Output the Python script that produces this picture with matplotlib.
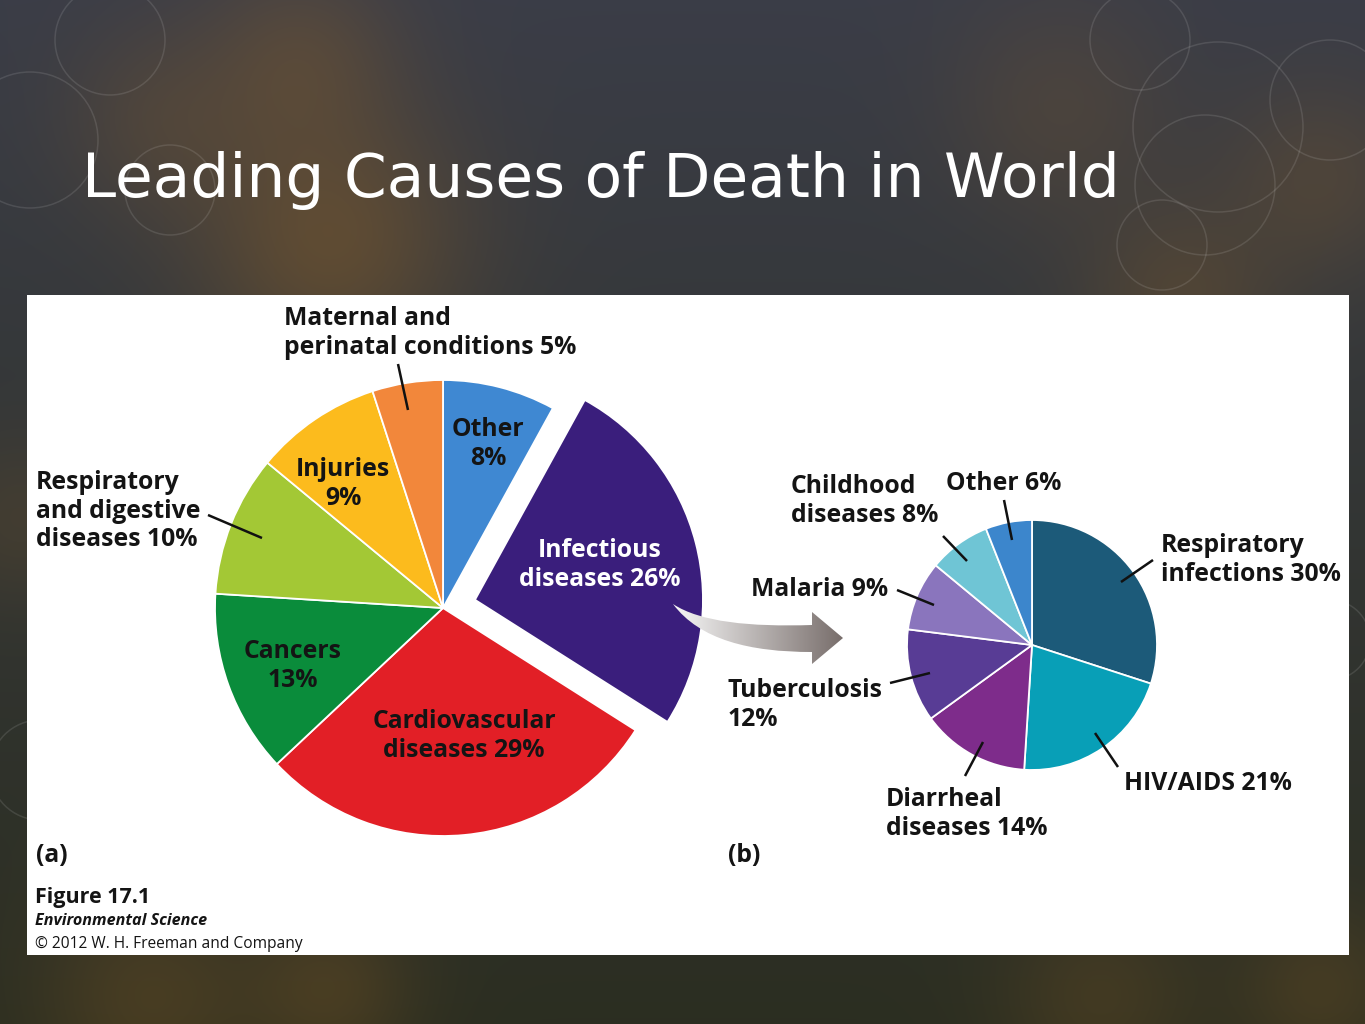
import numpy as np
import matplotlib
matplotlib.use('Agg')
import matplotlib.pyplot as plt
from matplotlib.path import Path
from matplotlib.patches import PathPatch, Rectangle, Circle

W, H = 1365, 1024

# pie (a): all causes of death
causes = ['Other', 'Infectious diseases', 'Cardiovascular diseases', 'Cancers',
          'Respiratory and digestive diseases', 'Injuries', 'Maternal and perinatal conditions']
shares = [8, 26, 29, 13, 10, 9, 5]
# pie (b): infectious diseases split
infect = ['Respiratory infections', 'HIV/AIDS', 'Diarrheal diseases', 'Tuberculosis',
          'Malaria', 'Childhood diseases', 'Other']
infect_shares = [30, 21, 14, 12, 9, 8, 6]

colors_a = ['#3f88d2', '#3a1e7c', '#e21f26', '#0a8c3b', '#a3c835', '#fcbb1d', '#f2873b']
colors_b = ['#1c5a79', '#089fb7', '#7e2c8b', '#583c95', '#8a75bd', '#6fc5d5', '#3c86cc']

FONT = 'Open Sans'


def py(y):
    # pixel row (from top) -> data y (from bottom); +3 nudges Open Sans to the ref baseline
    return H - y


def ty(y):
    return H - y - 3


fig = plt.figure(figsize=(W / 100, H / 100), dpi=100)
ax = fig.add_axes([0, 0, 1, 1])

# slide background: dark gradient with soft orange glows
yy, xx = np.mgrid[0:H, 0:W]
t = yy / H
top = np.array([0.23, 0.24, 0.28])
bot = np.array([0.17, 0.18, 0.13])
bg = top[None, None, :] * (1 - t[..., None]) + bot[None, None, :] * t[..., None]
glows = [(330, 240, 95, 0.40), (300, 60, 70, 0.27), (160, 120, 70, 0.2),
         (1060, 110, 80, 0.18), (1180, 300, 70, 0.25), (1320, 180, 70, 0.22),
         (150, 1000, 80, 0.25), (330, 990, 60, 0.25), (1100, 1000, 70, 0.2),
         (1320, 990, 60, 0.22), (20, 520, 60, 0.15)]
orange = np.array([0.60, 0.40, 0.14])
for gx, gy, s, a in glows:
    g = a * np.exp(-((xx - gx) ** 2 + (yy - gy) ** 2) / (2 * s ** 2))
    bg = bg * (1 - g[..., None]) + orange[None, None, :] * g[..., None]
ax.imshow(bg, extent=(0, W, 0, H), origin='upper', zorder=0)

rings = [(30, 140, 68), (170, 190, 45), (110, 40, 55), (1218, 127, 85),
         (1205, 185, 70), (1162, 245, 45), (1140, 40, 50), (1330, 100, 60),
         (40, 770, 50), (1330, 640, 40)]
for cx, cy, r in rings:
    ax.add_patch(Circle((cx, py(cy)), r, fill=False, ec='white', lw=1.1,
                        alpha=0.11, zorder=1))

ax.text(82, py(181), 'Leading Causes of Death in World', color='white',
        fontsize=44.2, family='DejaVu Sans', va='center', ha='left', zorder=2)

# white figure panel
ax.add_patch(Rectangle((27, py(955)), 1322, 660, fc='white', ec='none', zorder=2))

wp = dict(edgecolor='white', linewidth=1.3)
explode = [0, 33, 0, 0, 0, 0, 0]  # pie offsets are in data (pixel) units here
wa, _ = ax.pie(shares, colors=colors_a, startangle=90, counterclock=False,
               center=(443, py(608)), radius=228, explode=explode, wedgeprops=wp)
wb, _ = ax.pie(infect_shares, colors=colors_b, startangle=90, counterclock=False,
               center=(1032, py(645)), radius=125, wedgeprops=wp)
for w in wa + wb:
    w.set_zorder(3)

# gradient arrow from (a) to (b)
verts = [(673, 604), (700, 622), (750, 627), (812, 625), (812, 612), (843, 638),
         (812, 664), (812, 652), (750, 652), (700, 640), (673, 604), (673, 604)]
codes = [Path.MOVETO, Path.CURVE4, Path.CURVE4, Path.CURVE4, Path.LINETO, Path.LINETO,
         Path.LINETO, Path.LINETO, Path.CURVE4, Path.CURVE4, Path.CURVE4, Path.CLOSEPOLY]
arrow = PathPatch(Path([(x, py(y)) for x, y in verts], codes), fc='none', ec='none', zorder=4)
ax.add_patch(arrow)
grad = np.linspace(0, 1, 200)[None, :]
c0 = np.array([0.97, 0.97, 0.97])
c1 = np.array([0.47, 0.43, 0.42])
gimg = c0[None, None, :] * (1 - grad[..., None]) + c1[None, None, :] * grad[..., None]
im = ax.imshow(gimg, extent=(673, 843, py(664), py(604)), origin='upper', zorder=4,
               aspect='auto')
im.set_clip_path(arrow)

lab = dict(family=FONT, fontweight='bold', fontsize=17.8, color='#141414',
           linespacing=1.2, va='center', zorder=5)

# labels for (a)
ax.text(488, ty(441), 'Other\n8%', ha='center', **lab)
ax.text(343, ty(481), 'Injuries\n9%', ha='center', **lab)
ax.text(293, ty(663), 'Cancers\n13%', ha='center', **lab)
ax.text(464, ty(733), 'Cardiovascular\ndiseases 29%', ha='center', **lab)
ax.text(600, ty(562), 'Infectious\ndiseases 26%', ha='center',
        **{**lab, 'color': 'white'})
ax.text(284, ty(330), 'Maternal and\nperinatal conditions 5%', ha='left', **lab)
ax.text(36, ty(508), 'Respiratory\nand digestive\ndiseases 10%', ha='left', **lab)

# labels for (b)
ax.text(791, ty(498), 'Childhood\ndiseases 8%', ha='left', **lab)
ax.text(946, ty(481), 'Other 6%', ha='left', **lab)
ax.text(1161, ty(557), 'Respiratory\ninfections 30%', ha='left', **lab)
ax.text(751, ty(586), 'Malaria 9%', ha='left', **lab)
ax.text(728, ty(702), 'Tuberculosis\n12%', ha='left', **lab)
ax.text(1124, ty(781), 'HIV/AIDS 21%', ha='left', **lab)
ax.text(886, ty(811), 'Diarrheal\ndiseases 14%', ha='left', **lab)

leaders = [((398, 364), (408, 410)), ((208, 515), (262, 538)),
           ((943, 536), (967, 561)), ((1004, 500), (1012, 540)),
           ((1121, 582), (1153, 560)), ((897, 590), (934, 605)),
           ((890, 683), (930, 673)), ((1095, 733), (1118, 767)),
           ((983, 742), (965, 776))]
for (x0, y0), (x1, y1) in leaders:
    ax.plot([x0, x1], [py(y0), py(y1)], color='#111111', lw=1.8, zorder=5,
            solid_capstyle='butt')

ax.text(36, ty(852), '(a)', ha='left', **lab)
ax.text(728, ty(852), '(b)', ha='left', **lab)
ax.text(35, ty(894), 'Figure 17.1', ha='left', **{**lab, 'fontsize': 15.5})
ax.text(35, ty(918), 'Environmental Science', ha='left',
        **{**lab, 'fontsize': 11.6, 'fontstyle': 'italic'})
ax.text(35, ty(941), '\u00a9 2012 W. H. Freeman and Company', ha='left',
        **{**lab, 'fontsize': 11.2, 'fontweight': 'normal'})

ax.set_xlim(0, W)
ax.set_ylim(0, H)
ax.set_aspect('auto')
ax.axis('off')

fig.savefig('out.png', dpi=100)
